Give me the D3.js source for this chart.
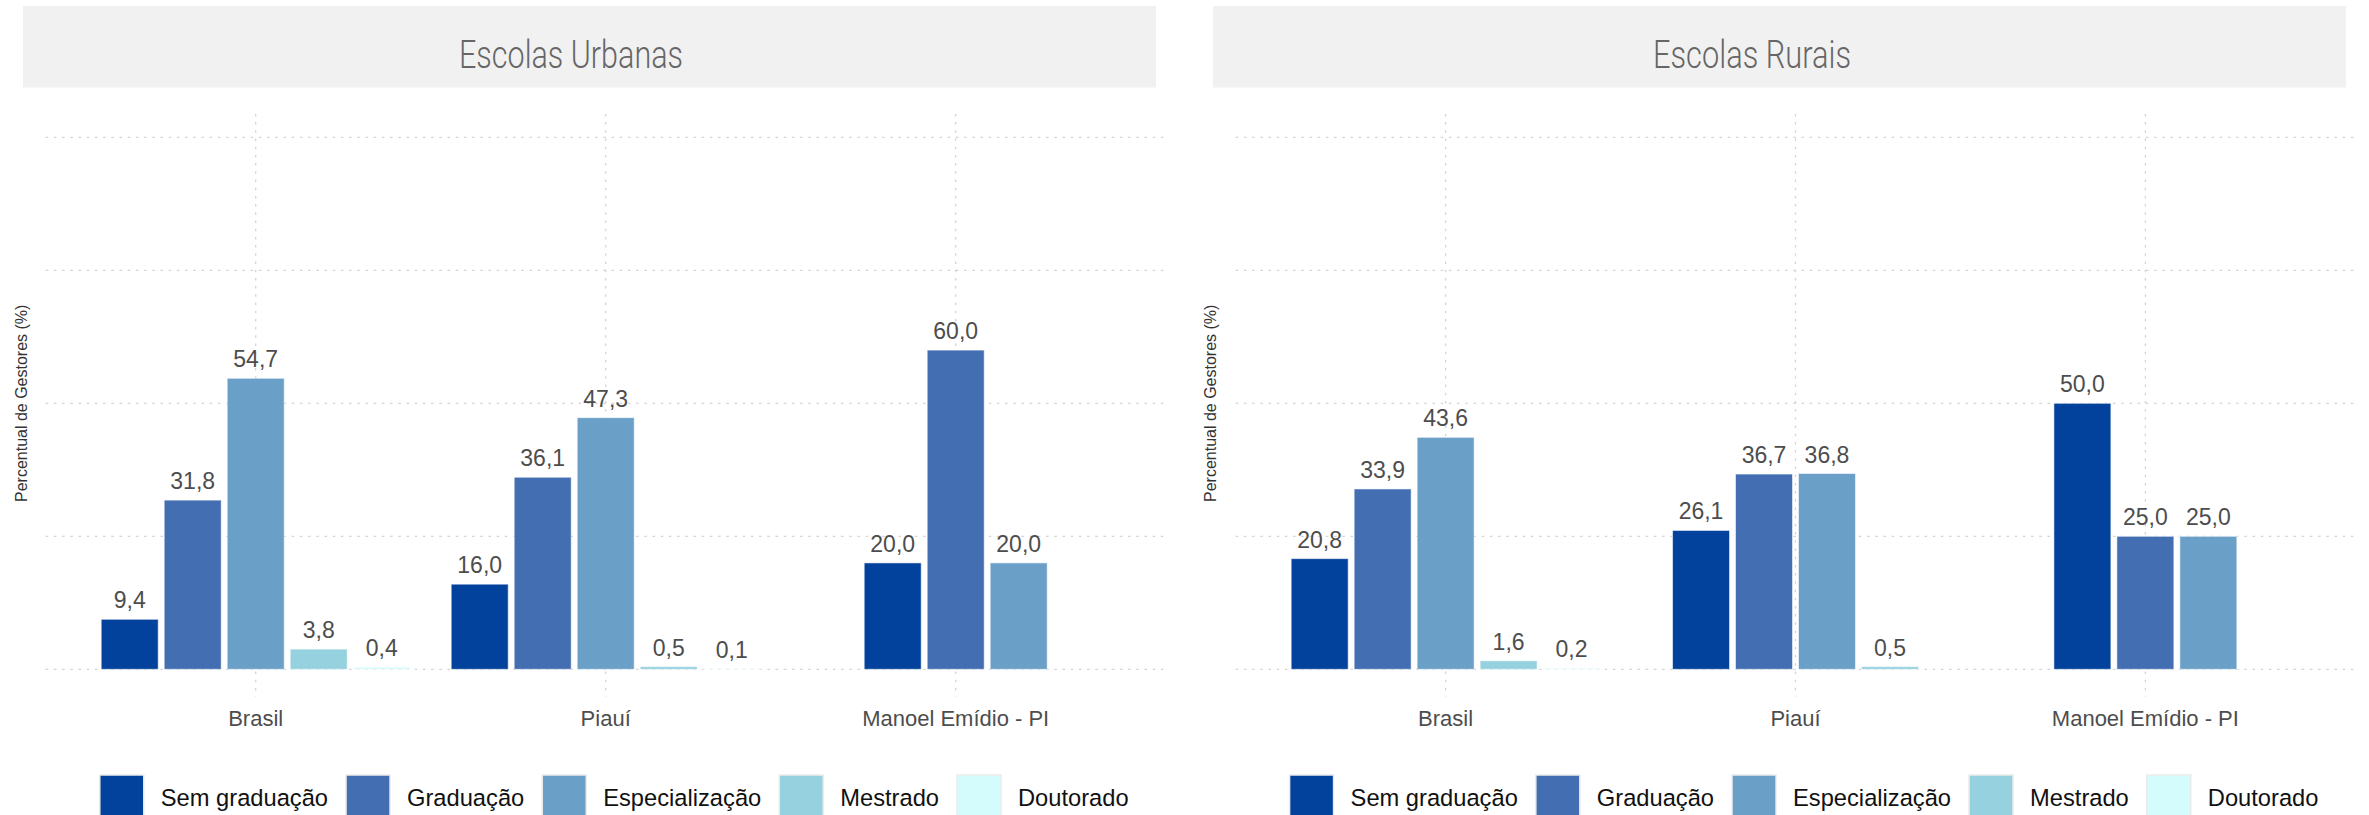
<!DOCTYPE html>
<html>
<head>
<meta charset="utf-8">
<script src="https://cdn.jsdelivr.net/npm/d3@7"></script>
<style>
  html, body { margin: 0; padding: 0; background: #ffffff; }
  svg { display: block; }
</style>
</head>
<body>
<svg id="chart" width="2369" height="815"></svg>
<script>
// ---------------- DATA ----------------
const categories = ["Brasil", "Piauí", "Manoel Emídio - PI"];
const seriesNames = ["Sem graduação", "Graduação", "Especialização", "Mestrado", "Doutorado"];
const seriesColors = ["#03429c", "#436eb2", "#6a9fc8", "#96d1df", "#d5fcfc"];
const panelTitles = ["Escolas Urbanas", "Escolas Rurais"];
const yTitle = "Percentual de Gestores (%)";
const yGridValues = [0, 25, 50, 75, 100];

// values per category, in series order (null = not present)
const urbanasBrasil = [9.4, 31.8, 54.7, 3.8, 0.4];
const urbanasPiaui  = [16.0, 36.1, 47.3, 0.5, 0.1];
const urbanasManoel = [20.0, 60.0, 20.0, null, null];
const ruraisBrasil  = [20.8, 33.9, 43.6, 1.6, 0.2];
const ruraisPiaui   = [26.1, 36.7, 36.8, 0.5, null];
const ruraisManoel  = [50.0, 25.0, 25.0, null, null];

const panelsData = [
  [urbanasBrasil, urbanasPiaui, urbanasManoel],
  [ruraisBrasil, ruraisPiaui, ruraisManoel]
];

// ---------------- LAYOUT ----------------
const svg = d3.select("#chart");
const panels = [
  { left: 45.7, right: 1165.7, stripL: 23, stripR: 1156, titleX: 571, titleW: 224, yTitleX: 21 },
  { left: 1235.7, right: 2355.3, stripL: 1213, stripR: 2346, titleX: 1752, titleW: 198, yTitleX: 1210 }
];
const y = d3.scaleLinear().domain([0, 100]).range([669.3, 137.3]);
const panelTop = y(104.4), panelBottom = y(-5.1);
const fmt = d3.formatLocale({ decimal: ",", thousands: ".", grouping: [3], currency: ["R$", ""] }).format(".1f");

const labelFont = "'Liberation Sans', Arial, Helvetica, sans-serif";

panels.forEach((p, pi) => {
  const g = svg.append("g");
  const x = d3.scalePoint().domain(categories).range([p.left, p.right]).padding(0.6);
  const barStep = x.step() * 0.9 / seriesNames.length;

  // strip
  g.append("rect")
    .attr("x", p.stripL).attr("y", 6)
    .attr("width", p.stripR - p.stripL).attr("height", 81.5)
    .attr("fill", "#f1f1f1");
  g.append("text")
    .attr("x", p.titleX).attr("y", 67.5)
    .attr("text-anchor", "middle")
    .attr("textLength", p.titleW).attr("lengthAdjust", "spacingAndGlyphs")
    .style("font-family", "Roboto, 'Liberation Sans', sans-serif")
    .style("font-weight", "300")
    .style("font-size", "38px")
    .attr("fill", "#666666")
    .text(panelTitles[pi]);

  // gridlines
  g.selectAll("line.hgrid").data(yGridValues).enter().append("line")
    .attr("x1", p.left).attr("x2", p.right)
    .attr("y1", d => y(d)).attr("y2", d => y(d))
    .attr("stroke", "#d4d4d4").attr("stroke-width", 1.3)
    .attr("stroke-dasharray", "2.5,5.7");
  g.selectAll("line.vgrid").data(categories).enter().append("line")
    .attr("x1", d => x(d)).attr("x2", d => x(d))
    .attr("y1", panelTop).attr("y2", panelBottom)
    .attr("stroke", "#d4d4d4").attr("stroke-width", 1.3)
    .attr("stroke-dasharray", "2.5,5.7");

  // y title
  g.append("text")
    .attr("transform", `translate(${p.yTitleX},${(y(0) + y(100)) / 2}) rotate(-90)`)
    .attr("text-anchor", "middle").attr("dominant-baseline", "central")
    .style("font-family", labelFont).style("font-size", "16px")
    .attr("fill", "#333333")
    .text(yTitle);

  // bars
  categories.forEach((cat, ci) => {
    const vals = panelsData[pi][ci];
    const present = vals.map((v, si) => ({ v, si })).filter(d => d.v !== null);
    const n = present.length;
    const inner = d3.scaleBand().domain(present.map(d => d.si))
      .range([x(cat) - n * barStep / 2, x(cat) + n * barStep / 2]);
    const gap = 3;
    g.selectAll(null).data(present).enter().append("rect")
      .attr("x", d => inner(d.si) + gap)
      .attr("width", inner.bandwidth() - 2 * gap)
      .attr("y", d => y(d.v))
      .attr("height", d => y(0) - y(d.v))
      .attr("fill", d => seriesColors[d.si])
      .attr("stroke", "rgba(255,255,255,0.55)").attr("stroke-width", 1);
    g.selectAll(null).data(present).enter().append("text")
      .attr("x", d => inner(d.si) + inner.bandwidth() / 2)
      .attr("y", d => y(d.v) - 11)
      .attr("text-anchor", "middle")
      .style("font-family", labelFont).style("font-size", "23px")
      .attr("fill", "#4d4d4d")
      .text(d => fmt(d.v));
  });

  // x labels
  g.selectAll("text.xlab").data(categories).enter().append("text")
    .attr("x", d => x(d)).attr("y", 726)
    .attr("text-anchor", "middle")
    .style("font-family", labelFont).style("font-size", "22px")
    .attr("fill", "#4d4d4d")
    .text(d => d);

  // legend
  const lg = g.append("g");
  const keySize = 44, textGap = 17, itemGap = 18;
  let cx = 0;
  seriesNames.forEach((name, si) => {
    lg.append("rect")
      .attr("x", cx).attr("y", 775)
      .attr("width", keySize).attr("height", keySize)
      .attr("fill", seriesColors[si])
      .attr("stroke", "#ebebeb").attr("stroke-width", 1.5);
    const t = lg.append("text")
      .attr("x", cx + keySize + textGap).attr("y", 798)
      .attr("dominant-baseline", "central")
      .style("font-family", labelFont).style("font-size", "23.7px")
      .attr("fill", "#111111")
      .text(name);
    cx += keySize + textGap + t.node().getComputedTextLength() + itemGap;
  });
  const totalW = cx - itemGap;
  const center = (p.left + p.right) / 2 + 8.5;
  lg.attr("transform", `translate(${center - totalW / 2},0)`);
});
</script>
</body>
</html>
